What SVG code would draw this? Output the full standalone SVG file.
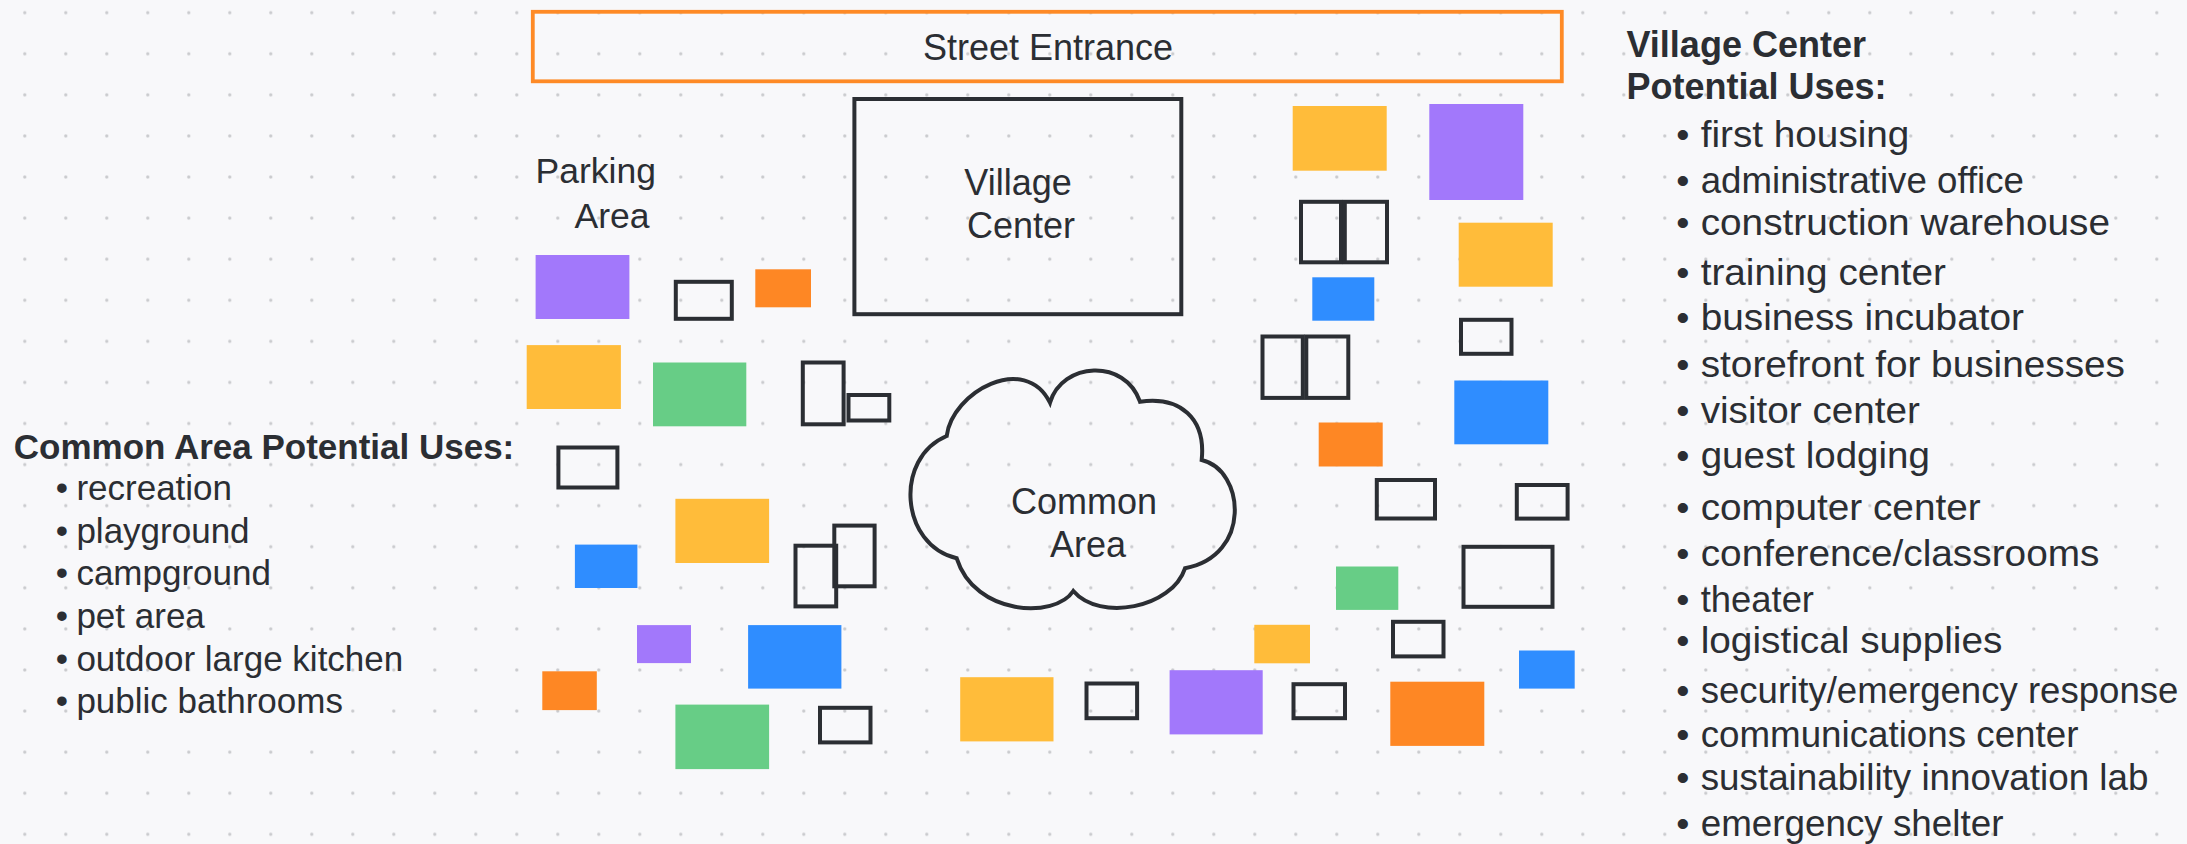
<svg xmlns="http://www.w3.org/2000/svg" width="2187" height="844" viewBox="0 0 2187 844">
<defs>
<pattern id="dots" patternUnits="userSpaceOnUse" x="4.3" y="-7.84" width="41" height="41.08">
<circle cx="20.5" cy="20.54" r="1.6" fill="#c9cacd"/>
</pattern>
<style>
.y{fill:#ffbc3a}.g{fill:#67cd86}.b{fill:#2f8dff}.p{fill:#a278fb}.o{fill:#fe8724}
.ol{fill:none;stroke:#2b2e33;stroke-width:4}
.or{fill:none;stroke:#fe8a26;stroke-width:3.8}
text{font-family:"Liberation Sans",Arial,Helvetica,sans-serif;fill:#2b2e33}
.lbl{font-size:36px}
.lh{font-size:35px;font-weight:bold}
.li{font-size:35px}
.rh{font-size:36px;font-weight:bold}
.ri{font-size:37.5px}
</style>
</defs>
<rect width="2187" height="844" fill="#f8f8fa"/>
<rect width="2187" height="844" fill="url(#dots)"/>

<g id="street-entrance">
<rect class="or" x="532.8" y="11.8" width="1029" height="69.5"/>
<text class="lbl" x="1048" y="60" text-anchor="middle">Street Entrance</text>
</g>

<g id="village-center">
<rect class="ol" x="854.4" y="99" width="326.9" height="215.2"/>
<text class="lbl" x="1018" y="195" text-anchor="middle">Village</text>
<text class="lbl" x="1021" y="238" text-anchor="middle">Center</text>
</g>

<g id="parking-area-label">
<text class="lbl" x="535.6" y="183" style="font-size:35.5px">Parking</text>
<text class="lbl" x="574.5" y="227.7" style="font-size:35.5px">Area</text>
</g>

<g id="common-area">
<path class="ol" d="M946.7 436 C952 392 1025 352 1050 402.7 C1062 362 1125 358 1140 401.7 C1180 396 1206 418 1201.7 460 C1245 470 1252 556 1185 568.3 C1172 608 1100 622 1073.3 591 C1055 619 975 616 956.7 558.3 C900 545 894 458 946.7 436 Z"/>
<text class="lbl" x="1084" y="514" text-anchor="middle">Common</text>
<text class="lbl" x="1088" y="557" text-anchor="middle">Area</text>
</g>

<g id="purple-blocks">
<rect id="p1" class="p" x="535.6" y="255" width="93.8" height="64"/>
<rect id="p2" class="p" x="1429.3" y="104" width="94" height="96"/>
<rect id="p3" class="p" x="637" y="625.1" width="54" height="38"/>
<rect id="p4" class="p" x="1169.6" y="670.2" width="93.1" height="64.2"/>
</g>

<g id="yellow-blocks">
<rect id="y1" class="y" x="526.7" y="345.1" width="94.2" height="63.9"/>
<rect id="y2" class="y" x="675.4" y="498.8" width="93.7" height="64.2"/>
<rect id="y3" class="y" x="960.2" y="677.2" width="93.3" height="64.2"/>
<rect id="y4" class="y" x="1292.7" y="106" width="94" height="64.7"/>
<rect id="y5" class="y" x="1458.7" y="222.7" width="94" height="64"/>
<rect id="y6" class="y" x="1254.3" y="624.8" width="55.7" height="38.5"/>
</g>

<g id="green-blocks">
<rect id="g1" class="g" x="653" y="362.5" width="93.3" height="63.8"/>
<rect id="g2" class="g" x="675.4" y="704.6" width="93.7" height="64.5"/>
<rect id="g3" class="g" x="1336" y="566.5" width="62.3" height="43.4"/>
</g>

<g id="blue-blocks">
<rect id="b1" class="b" x="574.9" y="544.6" width="62.5" height="43.4"/>
<rect id="b2" class="b" x="748.1" y="625.1" width="93.3" height="63.5"/>
<rect id="b3" class="b" x="1312.3" y="277.3" width="62" height="43.4"/>
<rect id="b4" class="b" x="1454.3" y="380.5" width="94" height="63.8"/>
<rect id="b5" class="b" x="1519" y="650.5" width="55.7" height="38.1"/>
</g>

<g id="orange-blocks">
<rect id="o1" class="o" x="755.3" y="269.3" width="55.7" height="38"/>
<rect id="o2" class="o" x="542.3" y="671.3" width="54.5" height="38.8"/>
<rect id="o3" class="o" x="1318.7" y="422.5" width="64" height="44"/>
<rect id="o4" class="o" x="1390.3" y="681.7" width="94" height="64.2"/>
</g>

<g id="outlined-blocks">
<rect id="r1" class="ol" x="675.8" y="281.8" width="56" height="37"/>
<rect id="r2" class="ol" x="802.8" y="362.5" width="40.8" height="61.8"/>
<rect id="r3" class="ol" x="848.5" y="395" width="40.8" height="25.5"/>
<rect id="r4" class="ol" x="558.4" y="447.5" width="59" height="40"/>
<rect id="r5" class="ol" x="834.3" y="525.6" width="40.3" height="60.7"/>
<rect id="r6" class="ol" x="795.5" y="545.7" width="40.7" height="60.7"/>
<rect id="r7" class="ol" x="820" y="707.8" width="50.5" height="34.6"/>
<rect id="r8" class="ol" x="1086.5" y="683.5" width="50.6" height="34.7"/>
<rect id="r9a" class="ol" x="1301" y="201.8" width="40" height="60.5"/>
<rect id="r9b" class="ol" x="1344.8" y="201.8" width="42.2" height="60.5"/>
<rect id="r10a" class="ol" x="1262.5" y="336.5" width="40.3" height="61.4"/>
<rect id="r10b" class="ol" x="1306.3" y="336.5" width="42" height="61.4"/>
<rect id="r11" class="ol" x="1461" y="319.8" width="50.5" height="34"/>
<rect id="r12" class="ol" x="1376.8" y="480" width="58.2" height="38.5"/>
<rect id="r13" class="ol" x="1516.8" y="485" width="50.8" height="33.6"/>
<rect id="r14" class="ol" x="1463.5" y="546.8" width="89" height="60"/>
<rect id="r15" class="ol" x="1393" y="621.8" width="50.5" height="34.6"/>
<rect id="r16" class="ol" x="1293.5" y="684.2" width="51.5" height="34"/>
</g>

<g id="common-area-uses">
<text class="lh" x="13.8" y="459.3">Common Area Potential Uses:</text>
<text class="li" x="62" y="500" text-anchor="middle">•</text><text class="li" x="76.4" y="500">recreation</text>
<text class="li" x="62" y="542.7" text-anchor="middle">•</text><text class="li" x="76.4" y="542.7">playground</text>
<text class="li" x="62" y="585.4" text-anchor="middle">•</text><text class="li" x="76.4" y="585.4">campground</text>
<text class="li" x="62" y="628" text-anchor="middle">•</text><text class="li" x="76.4" y="628">pet area</text>
<text class="li" x="62" y="670.7" text-anchor="middle">•</text><text class="li" x="76.4" y="670.7">outdoor large kitchen</text>
<text class="li" x="62" y="713.4" text-anchor="middle">•</text><text class="li" x="76.4" y="713.4">public bathrooms</text>
</g>

<g id="village-center-uses">
<text class="rh" x="1626.5" y="57.3">Village Center</text>
<text class="rh" x="1626.5" y="99.3">Potential Uses:</text>
<text class="ri" x="1682.7" y="146.7" text-anchor="middle">•</text><text class="ri" x="1700.7" y="146.7" textLength="208.7" lengthAdjust="spacingAndGlyphs">first housing</text>
<text class="ri" x="1682.7" y="192.7" text-anchor="middle">•</text><text class="ri" x="1700.7" y="192.7" textLength="323.3" lengthAdjust="spacingAndGlyphs">administrative office</text>
<text class="ri" x="1682.7" y="235" text-anchor="middle">•</text><text class="ri" x="1700.7" y="235" textLength="409.3" lengthAdjust="spacingAndGlyphs">construction warehouse</text>
<text class="ri" x="1682.7" y="285" text-anchor="middle">•</text><text class="ri" x="1700.7" y="285" textLength="245.3" lengthAdjust="spacingAndGlyphs">training center</text>
<text class="ri" x="1682.7" y="330" text-anchor="middle">•</text><text class="ri" x="1700.7" y="330" textLength="323.3" lengthAdjust="spacingAndGlyphs">business incubator</text>
<text class="ri" x="1682.7" y="376.7" text-anchor="middle">•</text><text class="ri" x="1700.7" y="376.7" textLength="424.3" lengthAdjust="spacingAndGlyphs">storefront for businesses</text>
<text class="ri" x="1682.7" y="423.3" text-anchor="middle">•</text><text class="ri" x="1700.7" y="423.3" textLength="219.3" lengthAdjust="spacingAndGlyphs">visitor center</text>
<text class="ri" x="1682.7" y="468" text-anchor="middle">•</text><text class="ri" x="1700.7" y="468" textLength="229.3" lengthAdjust="spacingAndGlyphs">guest lodging</text>
<text class="ri" x="1682.7" y="520" text-anchor="middle">•</text><text class="ri" x="1700.7" y="520" textLength="280" lengthAdjust="spacingAndGlyphs">computer center</text>
<text class="ri" x="1682.7" y="566" text-anchor="middle">•</text><text class="ri" x="1700.7" y="566" textLength="398.7" lengthAdjust="spacingAndGlyphs">conference/classrooms</text>
<text class="ri" x="1682.7" y="611.7" text-anchor="middle">•</text><text class="ri" x="1700.7" y="611.7" textLength="113.3" lengthAdjust="spacingAndGlyphs">theater</text>
<text class="ri" x="1682.7" y="653.3" text-anchor="middle">•</text><text class="ri" x="1700.7" y="653.3" textLength="301.7" lengthAdjust="spacingAndGlyphs">logistical supplies</text>
<text class="ri" x="1682.7" y="703.3" text-anchor="middle">•</text><text class="ri" x="1700.7" y="703.3" textLength="477.7" lengthAdjust="spacingAndGlyphs">security/emergency response</text>
<text class="ri" x="1682.7" y="746.7" text-anchor="middle">•</text><text class="ri" x="1700.7" y="746.7" textLength="377.7" lengthAdjust="spacingAndGlyphs">communications center</text>
<text class="ri" x="1682.7" y="790" text-anchor="middle">•</text><text class="ri" x="1700.7" y="790" textLength="447.7" lengthAdjust="spacingAndGlyphs">sustainability innovation lab</text>
<text class="ri" x="1682.7" y="836" text-anchor="middle">•</text><text class="ri" x="1700.7" y="836" textLength="302.7" lengthAdjust="spacingAndGlyphs">emergency shelter</text>
</g>

<g id="connectors"></g>
</svg>
